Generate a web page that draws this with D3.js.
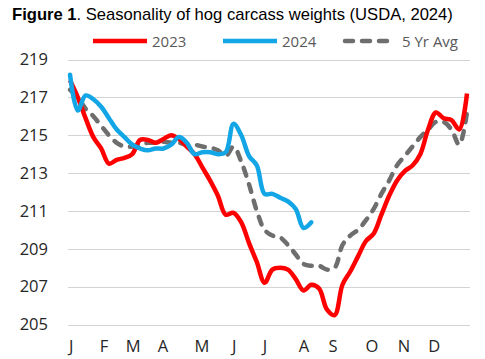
<!DOCTYPE html>
<html><head><meta charset="utf-8">
<script src="https://cdn.jsdelivr.net/npm/d3@7"></script>
<style>html,body{margin:0;padding:0;background:#fff;}svg{display:block;}</style>
</head><body>
<script>
const yTicks = [205, 207, 209, 211, 213, 215, 217, 219];
const months = ["J","F","M","A","M","J","J","A","S","O","N","D"];
const monthPos = [0.15, 4.37, 8.1, 11.95, 16.96, 21.1, 25.05, 30.06, 33.8, 38.8, 42.9, 46.8];
const weeks = d3.range(52);
const s2023 = [217.9,217.0,215.9,214.9,214.3,213.5,213.7,213.8,214.0,214.75,214.75,214.6,214.8,215.0,214.8,214.4,214.0,213.3,212.6,211.8,210.8,210.9,210.4,209.3,208.3,207.2,207.9,208.0,207.9,207.4,206.8,207.1,206.9,205.8,205.5,207.1,207.8,208.6,209.4,209.8,210.8,211.8,212.6,213.1,213.4,214.0,215.3,216.2,215.9,215.8,215.3,217.2];
const s2024 = [218.2,216.3,217.1,216.9,216.5,215.9,215.3,214.9,214.5,214.3,214.2,214.3,214.3,214.5,214.9,214.6,214.0,214.1,214.1,214.0,214.1,215.6,215.0,213.9,213.4,211.9,211.9,211.7,211.5,211.1,210.1,210.4];
const s5yr = [217.4,217.0,216.4,216.0,215.5,215.0,214.6,214.4,214.4,214.5,214.6,214.6,214.65,214.6,214.6,214.5,214.5,214.4,214.35,214.2,213.9,214.4,213.6,212.4,211.0,210.0,209.7,209.6,209.2,208.7,208.2,208.1,208.1,207.9,208.0,209.2,209.7,210.0,210.5,211.1,211.9,212.6,213.4,213.9,214.4,214.9,215.3,215.7,215.7,215.3,214.5,216.2];
const seriesNames = ["2023","2024","5 Yr Avg"];
const title1 = "Figure 1";
const title2 = ". Seasonality of hog carcass weights (USDA, 2024)";

const W = 485, H = 359;
const svg = d3.select("body").append("svg").attr("width", W).attr("height", H);
const x = d3.scaleLinear().domain([0, 51]).range([70, 467]);
const y = d3.scaleLinear().domain([205, 219]).range([324.5, 59.5]);
const font = "'Open Sans', 'Liberation Sans', sans-serif";

// title
const t = svg.append("text").attr("x", 12).attr("y", 20)
  .attr("font-family", "'Liberation Sans', Arial, sans-serif").attr("font-size", 16.6).attr("fill", "#000");
t.append("tspan").attr("font-weight", "bold").text(title1);
t.append("tspan").text(title2);

// gridlines
svg.append("g").selectAll("line").data(yTicks).join("line")
  .attr("x1", 68).attr("x2", 470)
  .attr("y1", d => Math.round(y(d)) + 0.5).attr("y2", d => Math.round(y(d)) + 0.5)
  .attr("stroke", "#d3d3d3").attr("stroke-width", 1.2);

// y labels
svg.append("g").selectAll("text").data(yTicks).join("text")
  .attr("x", 48).attr("y", d => y(d) + 5.8).attr("text-anchor", "end")
  .attr("font-family", font).attr("font-size", 16.5).attr("fill", "#262626").text(d => d);

// x labels
svg.append("g").selectAll("text").data(months).join("text")
  .attr("x", (d, i) => x(monthPos[i])).attr("y", 351.5).attr("text-anchor", "middle")
  .attr("font-family", font).attr("font-size", 16.5).attr("fill", "#262626").text(d => d);

const line = d3.line().x((d, i) => x(i)).y(d => y(d)).curve(d3.curveCatmullRom.alpha(0.5));
const colors = ["#ff0000", "#13a6e6", "#6e6e6e"];

svg.append("path").attr("d", line(s5yr)).attr("fill", "none").attr("stroke", colors[2])
  .attr("stroke-width", 4.5).attr("stroke-dasharray", "8,9").attr("stroke-linecap", "round");
svg.append("path").attr("d", line(s2023)).attr("fill", "none").attr("stroke", colors[0])
  .attr("stroke-width", 4.5).attr("stroke-linejoin", "round");
svg.append("path").attr("d", line(s2024)).attr("fill", "none").attr("stroke", colors[1])
  .attr("stroke-width", 4.5).attr("stroke-linejoin", "round").attr("stroke-linecap", "round");

// legend
const leg = [
  {x1: 93, x2: 147, tx: 152},
  {x1: 223, x2: 277, tx: 282},
  {x1: 345, x2: 390, tx: 402}
];
leg.forEach((l, i) => {
  const ln = svg.append("line").attr("x1", l.x1).attr("x2", l.x2).attr("y1", 41).attr("y2", 41)
    .attr("stroke", colors[i]).attr("stroke-width", 4.5);
  if (i === 2) ln.attr("stroke-dasharray", "8,9").attr("stroke-linecap", "round");
  svg.append("text").attr("x", l.tx).attr("y", 46.5).attr("font-family", font)
    .attr("font-size", 15).attr("fill", "#595959").text(seriesNames[i]);
});
</script>
</body></html>
